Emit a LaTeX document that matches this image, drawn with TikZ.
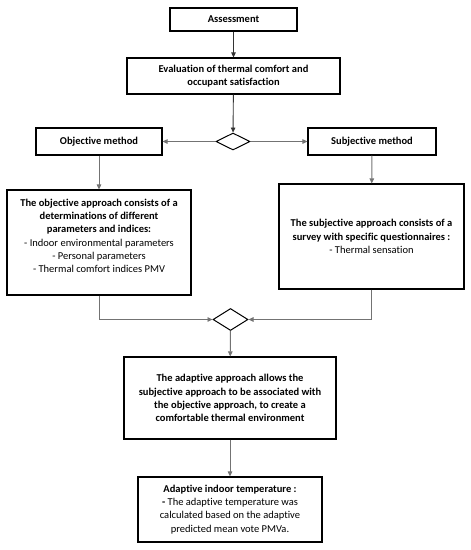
\documentclass[tikz,border=0pt]{standalone}
\usepackage{fontspec}
\setmainfont[Ligatures={NoCommon,NoContextual}]{Carlito}
\usepackage{tikz}
\usetikzlibrary{shapes.geometric,arrows.meta}

\begin{document}
\begin{tikzpicture}[x=1pt, y=-1pt,
    box/.style = {draw, line width=1.1pt, align=center, inner sep=2pt,
                  font=\fontsize{10.5}{13.3}\selectfont\bfseries},
    choice/.style = {draw, diamond, line width=1pt, inner sep=0pt},
    link/.style = {draw=black!55, line width=0.9pt, -{Triangle[length=5pt,width=4.5pt]}},
    toplink/.style = {link, draw=black!80}]
    \useasboundingbox (0,0) rectangle (471,550);

    \node[box, minimum width=127pt, minimum height=23pt] (assess) at (233.5,19.5) {Assessment};
    \node[box, minimum width=213pt, minimum height=36pt] (evalu) at (233.5,76)
        {Evaluation of thermal comfort and\\ occupant satisfaction};
    \node[choice, minimum width=34pt, minimum height=17pt] (split) at (233,141.5) {};
    \node[box, minimum width=126pt, minimum height=27pt] (objm) at (99,141.5) {Objective method};
    \node[box, minimum width=128pt, minimum height=27pt] (subm) at (372,141.5) {Subjective method};

    \node[box, minimum width=184pt, minimum height=105pt] (obja) at (99,242.5)
        {The objective approach consists of a\\ determinations of different\\ parameters and indices:\\
         \mdseries - Indoor environmental parameters\\ \mdseries - Personal parameters\\
         \mdseries - Thermal comfort indices PMV\\ ~};
    \node[box, minimum width=185pt, minimum height=105pt] (suba) at (371.5,236.5)
        {The subjective approach consists of a\\ survey with specific questionnaires :\\
         \mdseries - Thermal sensation};

    \node[choice, minimum width=35pt, minimum height=22pt] (merge) at (230.5,319.5) {};
    \node[box, minimum width=212pt, minimum height=82pt] (adapt) at (230,398)
        {The adaptive approach allows the\\ subjective approach to be associated with\\
         the objective approach, to create a\\ comfortable thermal environment};
    \node[box, minimum width=184pt, minimum height=65pt] (final) at (230,509.5)
        {Adaptive indoor temperature :\\ - \mdseries The adaptive temperature was\\
         \mdseries calculated based on the adaptive\\ \mdseries predicted mean vote PMVa.};

    % connectors
    \draw[toplink] (assess) -- (evalu);
    \draw[toplink] (evalu) -- (split);
    \draw[link] (split) -- (objm);
    \draw[link] (split) -- (subm);
    \draw[link] (objm) -- (obja);
    \draw[link] (subm) -- (suba);
    \draw[link] (obja.south) |- (merge.west);
    \draw[link] (suba.south) |- (merge.east);
    \draw[link] (merge) -- (adapt);
    \draw[link] (adapt) -- (final);
\end{tikzpicture}
\end{document}
